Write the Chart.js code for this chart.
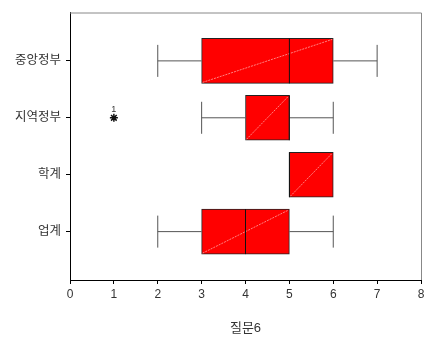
<!DOCTYPE html>
<html>
<head>
<meta charset="utf-8">
<script src="https://cdn.jsdelivr.net/npm/chart.js@4"></script>
<style>
  html, body { margin: 0; padding: 0; background: #fff; }
  #wrap { width: 428px; height: 344px; }
</style>
</head>
<body>
<div id="wrap"><canvas id="myChart" width="428" height="344"></canvas></div>
<script>
const categories = ['중앙정부', '지역정부', '학계', '업계'];
const mins = [2, 3, 5, 2];
const q1s = [3, 4, 5, 3];
const medians = [5, 5, 5, 4];
const q3s = [6, 5, 6, 5];
const maxs = [7, 6, 6, 6];
// outliers: category position (1-based), value, case label
const outlierPos = [2];
const outlierVals = [1];
const outlierIds = ['1'];
const xTicks = [0, 1, 2, 3, 4, 5, 6, 7, 8];

const fontFam = "'Liberation Sans', 'Noto Sans CJK KR', sans-serif";

// whiskers, medians, the pale diagonal in each box, outlier labels, frame
const boxExtras = {
    id: 'boxExtras',
    afterDatasetsDraw(chart) {
        const c = chart.ctx;
        const xs = chart.scales.x;
        const ys = chart.scales.y;
        const half = 22.5;
        const cap = 16;
        c.save();
        for (let i = 0; i < categories.length; i++) {
            const y = ys.getPixelForValue(i + 1);
            const xq1 = xs.getPixelForValue(q1s[i]);
            const xq3 = xs.getPixelForValue(q3s[i]);
            // diagonal
            c.strokeStyle = 'rgba(255,160,160,0.8)';
            c.lineWidth = 1;
            c.setLineDash([2, 1]);
            c.beginPath();
            c.moveTo(xq1 + 1, y + half - 1);
            c.lineTo(xq3 - 1, y - half + 1);
            c.stroke();
            c.setLineDash([]);
            // whiskers
            c.strokeStyle = '#555';
            c.lineWidth = 1;
            if (mins[i] < q1s[i]) {
                const xm = xs.getPixelForValue(mins[i]);
                c.beginPath();
                c.moveTo(xm, y); c.lineTo(xq1, y);
                c.moveTo(xm, y - cap); c.lineTo(xm, y + cap);
                c.stroke();
            }
            if (maxs[i] > q3s[i]) {
                const xm = xs.getPixelForValue(maxs[i]);
                c.beginPath();
                c.moveTo(xq3, y); c.lineTo(xm, y);
                c.moveTo(xm, y - cap); c.lineTo(xm, y + cap);
                c.stroke();
            }
            // median
            const xmed = xs.getPixelForValue(medians[i]);
            c.strokeStyle = '#111';
            c.beginPath();
            c.moveTo(xmed, y - half); c.lineTo(xmed, y + half);
            c.stroke();
        }
        // outlier labels
        c.fillStyle = '#333';
        c.font = '9px ' + fontFam;
        c.textAlign = 'center';
        c.textBaseline = 'bottom';
        for (let k = 0; k < outlierVals.length; k++) {
            c.fillText(outlierIds[k], xs.getPixelForValue(outlierVals[k]), ys.getPixelForValue(outlierPos[k]) - 4);
        }
        // top / right frame
        const a = chart.chartArea;
        c.strokeStyle = '#888';
        c.lineWidth = 1;
        c.beginPath();
        c.moveTo(a.left, a.top + 0.5); c.lineTo(a.right + 0.5, a.top + 0.5);
        c.lineTo(a.right + 0.5, a.bottom);
        c.stroke();
        c.restore();
    }
};

const data = {
    datasets: [{
        type: 'bar',
        data: categories.map((c, i) => ({ x: [q1s[i], q3s[i]], y: i + 1 })),
        backgroundColor: '#ff0000',
        borderColor: '#222',
        borderWidth: 1,
        borderSkipped: false,
        barThickness: 45,
    }, {
        type: 'scatter',
        data: outlierVals.map((v, k) => ({ x: v, y: outlierPos[k] })),
        pointStyle: 'star',
        radius: 4,
        borderColor: '#111',
        borderWidth: 1.5,
        backgroundColor: '#111',
    }],
};

const config = {
    type: 'bar',
    data: data,
    options: {
        indexAxis: 'y',
        responsive: false,
        animation: false,
        layout: { padding: { top: 5, right: 7, left: 0, bottom: 0 } },
        plugins: { legend: { display: false }, tooltip: { enabled: false } },
        scales: {
            x: {
                type: 'linear',
                min: 0,
                max: 8,
                offset: false,
                afterBuildTicks: (s) => { s.ticks = xTicks.map(v => ({ value: v })); },
                afterFit: (s) => { s.height = 64; },
                grid: { offset: false, drawOnChartArea: false, drawTicks: true, tickLength: 4, color: '#000' },
                border: { display: true, color: '#000', width: 1 },
                ticks: { color: '#333', padding: 3, font: { size: 12, family: fontFam } },
                title: { display: true, text: '질문6', color: '#333', padding: { top: 0, bottom: 8 }, font: { size: 13, family: fontFam } },
            },
            y: {
                type: 'linear',
                reverse: true,
                min: 0.15,
                max: 4.85,
                offset: false,
                afterBuildTicks: (s) => { s.ticks = categories.map((c, i) => ({ value: i + 1 })); },
                afterFit: (s) => { s.width = 70; },
                grid: { offset: false, drawOnChartArea: false, drawTicks: true, tickLength: 4, color: '#000' },
                border: { display: true, color: '#000', width: 1 },
                ticks: {
                    color: '#333',
                    padding: 5,
                    font: { size: 12.5, family: fontFam },
                    callback: (v) => categories[v - 1],
                },
            },
        },
    },
    plugins: [boxExtras],
};

const myChart = new Chart(document.getElementById('myChart'), config);
</script>
</body>
</html>
